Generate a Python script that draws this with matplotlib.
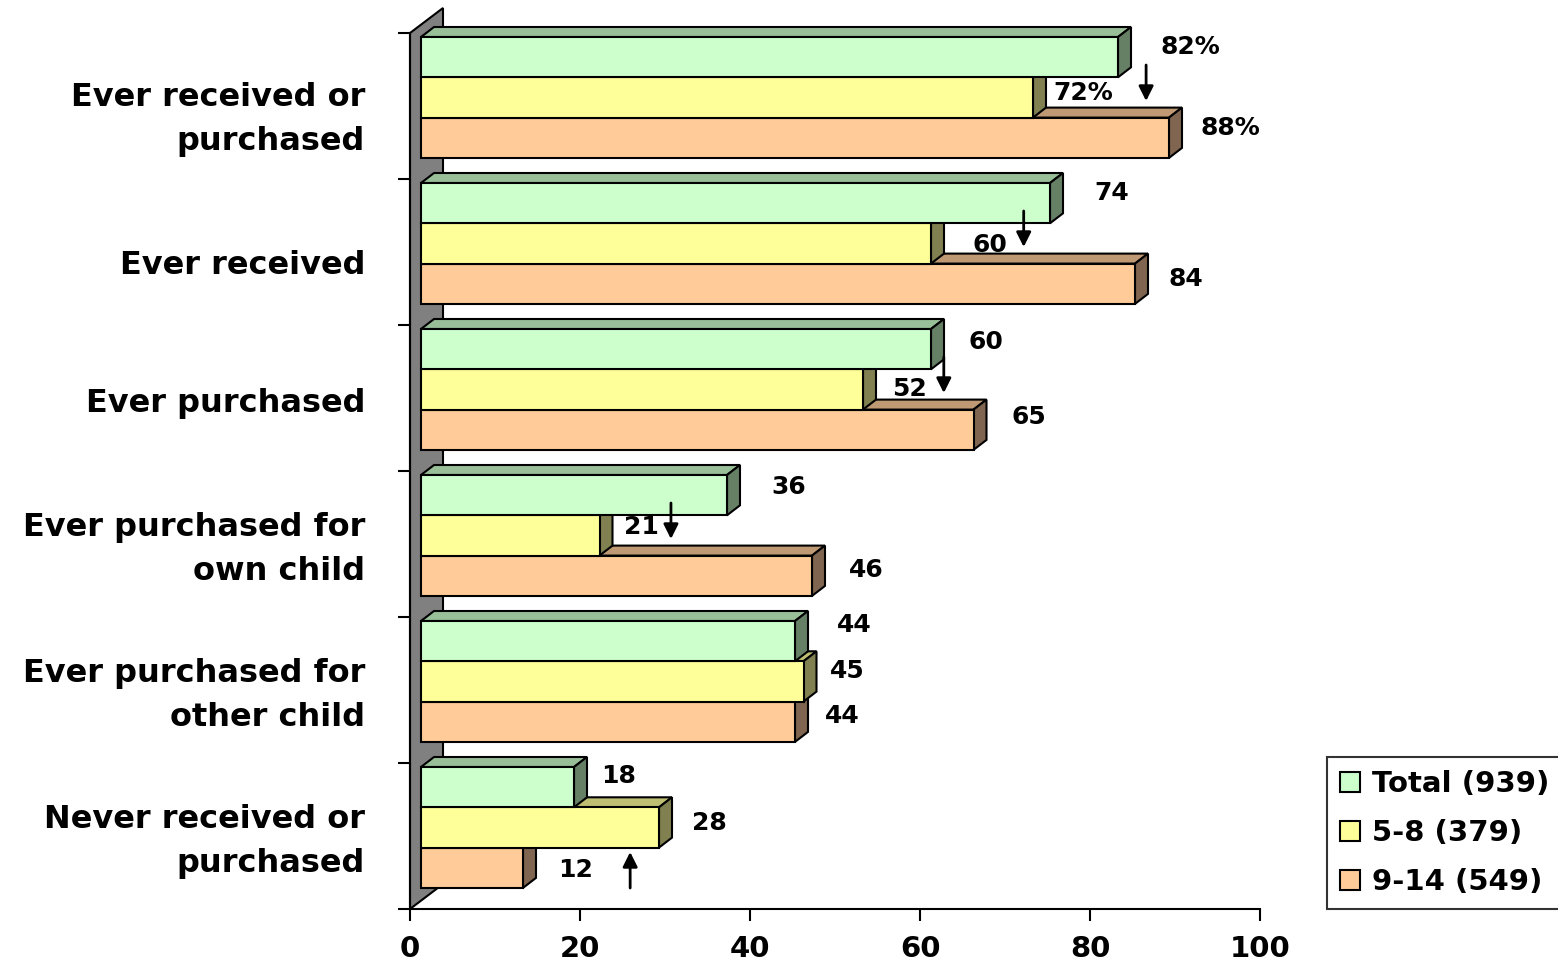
import matplotlib.pyplot as plt
from matplotlib.patches import Polygon, Patch
from matplotlib.transforms import offset_copy

plt.rcParams["font.family"] = ["DejaVu Sans"]
plt.rcParams["font.weight"] = "bold"

categories = ["Ever received or\npurchased", "Ever received", "Ever purchased",
              "Ever purchased for\nown child", "Ever purchased for\nother child",
              "Never received or\npurchased"]
series_names = ["Total (939)", "5-8 (379)", "9-14 (549)"]
total = [82, 74, 60, 36, 44, 18]
age_5_8 = [72, 60, 52, 21, 45, 28]
age_9_14 = [88, 84, 65, 46, 44, 12]

# significance arrows (position on the value axis, direction)
arrow_x = [86.6, 72.2, 62.8, 30.7, None, 25.9]
arrow_dir = ["down", "down", "down", "down", None, "up"]

# label nudges in pixels from the end of each bar (right, down)
label_dx = [[29, 31, 24, 31, 29, 14],
            [7, 29, 16, 11, 13, 20],
            [18, 21, 25, 24, 17, 22]]
label_dy = [[-10, -10, -7, -8, -16, -11],
            [-4, 2, 0, -8, -10, -4],
            [-10, -5, -13, -6, -6, 2]]

front_c = ["#CCFFCC", "#FFFF99", "#FFCC99"]
top_c = ["#99BF99", "#BFBF73", "#BF9973"]
side_c = ["#668066", "#808050", "#806650"]

W, H = 1558, 966
fig = plt.figure(figsize=(W / 100, H / 100), dpi=100)
ax = fig.add_axes([410 / W, 57 / H, 850 / W, 876 / H])
ax.set_xlim(0, 100)
ax.set_ylim(6, 0)

PX = 100 / 850   # value units per pixel
PY = 6 / 876     # category units per pixel

# grey side wall
wx, wy = 33 * PX, 25 * PY
ax.add_patch(Polygon([(0, 6), (0, 0), (wx, -wy), (wx, 6 - wy)], closed=True,
                     fc="#808080", ec="black", lw=1.5, clip_on=False, zorder=1))

x0 = 11 * PX
bh = 40.3 * PY
ddx, ddy = 13 * PX, 10 * PY
series = [total, age_5_8, age_9_14]


def bar3d(y0, v, k, z):
    x1 = x0 + v
    faces = [
        ([(x0, y0), (x0 + ddx, y0 - ddy), (x1 + ddx, y0 - ddy), (x1, y0)], top_c[k]),
        ([(x1, y0), (x1 + ddx, y0 - ddy), (x1 + ddx, y0 + bh - ddy), (x1, y0 + bh)], side_c[k]),
        ([(x0, y0), (x1, y0), (x1, y0 + bh), (x0, y0 + bh)], front_c[k]),
    ]
    for pts, c in faces:
        ax.add_patch(Polygon(pts, closed=True, fc=c, ec="black", lw=1.5,
                             joinstyle="miter", clip_on=False, zorder=z))


z = 2
for i in range(len(categories)):
    for k in (2, 1, 0):
        y0 = i + 4 * PY + k * bh
        bar3d(y0, series[k][i], k, z)
        z += 1

for i in range(len(categories)):
    for k in range(3):
        v = series[k][i]
        y0 = i + 4 * PY + k * bh
        txt = f"{v}%" if i == 0 else f"{v}"
        ax.annotate(txt, xy=(x0 + v + ddx, y0 + bh / 2),
                    xytext=(label_dx[k][i], -label_dy[k][i]), textcoords="offset pixels",
                    ha="left", va="center", fontsize=18, fontweight="bold", zorder=50)
    if arrow_x[i] is not None:
        if arrow_dir[i] == "down":
            start, end = i + 32 * PY, i + 68 * PY
        else:
            start, end = i + 125 * PY, i + 89 * PY
        ax.annotate("", xy=(arrow_x[i], end), xytext=(arrow_x[i], start),
                    arrowprops=dict(arrowstyle="-|>", color="black", lw=2,
                                    mutation_scale=22, shrinkA=0, shrinkB=0),
                    zorder=60)

# category labels
lab_tr = offset_copy(ax.get_yaxis_transform(), fig=fig, x=-45, y=0, units="dots")
for i, name in enumerate(categories):
    shift = 0.09 if i < 2 else 0.04
    ax.text(0, i + 0.5 + shift, name, transform=lab_tr, ha="right", va="center",
            multialignment="right", fontsize=23, fontweight="bold", linespacing=1.55)

ax.set_xticks(range(0, 101, 20))
ax.set_xticklabels([str(t) for t in range(0, 101, 20)], fontsize=21, fontweight="bold")
ax.set_yticks(range(0, 7))
ax.set_yticklabels([])
ax.tick_params(axis="both", length=8.6, width=1.5, direction="out")
ax.tick_params(axis="x", pad=10)
for s in ("top", "right"):
    ax.spines[s].set_visible(False)
for s in ("left", "bottom"):
    ax.spines[s].set_linewidth(1.5)
ax.set_facecolor("none")

handles = [Patch(fc=c, ec="black", lw=1.5) for c in front_c]
leg = fig.legend(handles, series_names, loc="upper left",
                 bbox_to_anchor=(1327 / W, 1 - 757 / H), frameon=True, fancybox=False,
                 edgecolor="black", prop=dict(size=21, weight="bold"),
                 handlelength=0.68, handleheight=0.68, handletextpad=0.4,
                 labelspacing=0.72, borderpad=0.45, borderaxespad=0)
leg.get_frame().set_linewidth(1.5)

fig.savefig("out.png", dpi=100)
